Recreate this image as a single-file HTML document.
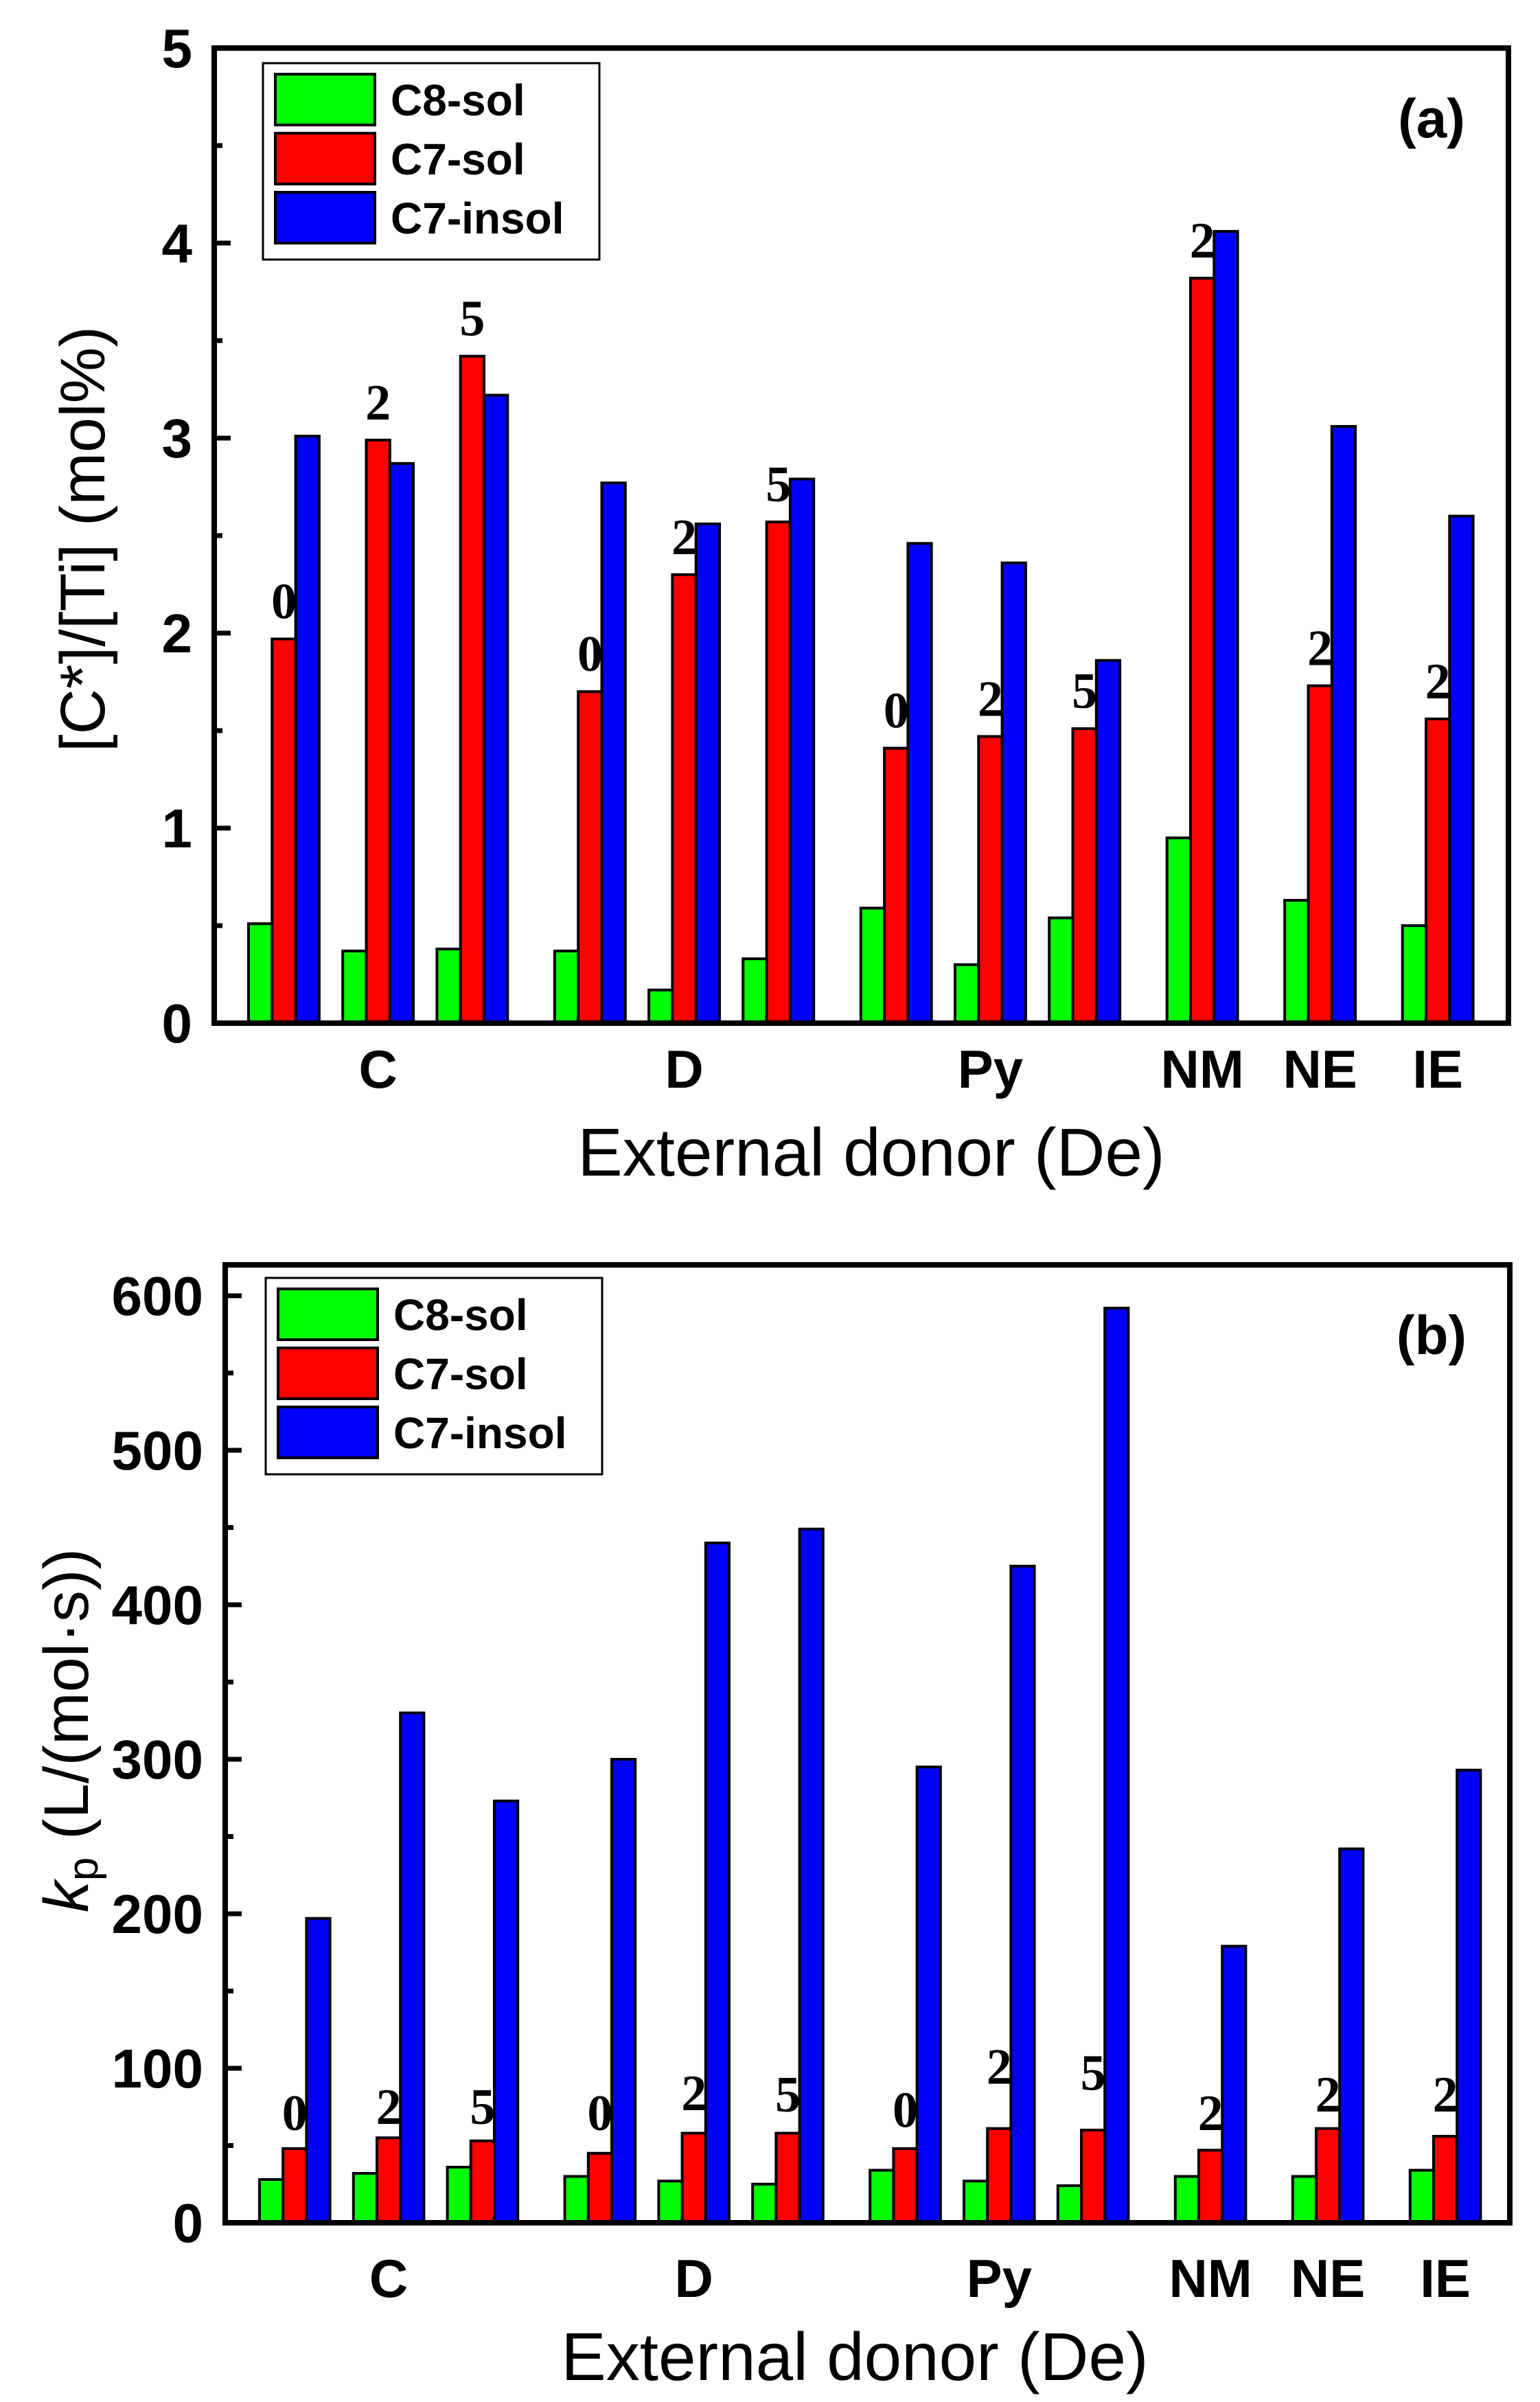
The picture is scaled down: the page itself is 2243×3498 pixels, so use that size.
<!DOCTYPE html>
<html><head><meta charset="utf-8"><style>
html,body{margin:0;padding:0;background:#fff}
svg{display:block}
text{font-family:"Liberation Sans",Arial,sans-serif}
</style></head><body>
<svg id="fig" width="2243" height="3498" viewBox="0 0 2243 3498" xmlns="http://www.w3.org/2000/svg"></svg>
<script>
const categories = ["C","C","C","D","D","D","Py","Py","Py","NM","NE","IE"];
const groupLabels = ["C","D","Py","NM","NE","IE"];
const annotations = ["0","2","5","0","2","5","0","2","5","2","2","2"];
const slots = [0,4,8,13,17,21,26,30,34,39,44,49];
const seriesNames = ["C8-sol","C7-sol","C7-insol"];
const colors = ["#00ff00","#ff0000","#0000ff"];
const aC8 = [0.51,0.37,0.38,0.37,0.17,0.33,0.59,0.30,0.54,0.95,0.63,0.50];
const aC7s = [1.97,2.99,3.42,1.70,2.30,2.57,1.41,1.47,1.51,3.82,1.73,1.56];
const aC7i = [3.01,2.87,3.22,2.77,2.56,2.79,2.46,2.36,1.86,4.06,3.06,2.60];
const aTicks = [0,1,2,3,4,5];
const bC8 = [28,32,36,30,27,25,34,27,24,30,30,34];
const bC7s = [48,55,53,45,58,58,48,61,60,47,61,56];
const bC7i = [197,330,273,300,440,449,295,425,592,179,242,293];
const bTicks = [0,100,200,300,400,500,600];
const bAnnotY = [60,64,64,60,73,72,62,90,86,60,72,72];

const NS="http://www.w3.org/2000/svg";
const svg=document.getElementById('fig');
function el(tag,attrs,parent,txt){const e=document.createElementNS(NS,tag);for(const k in attrs)e.setAttribute(k,attrs[k]);if(txt!==undefined)e.textContent=txt;(parent||svg).appendChild(e);return e;}

function panel(cfg){
  const g=el('g',{});
  
  
  const L=cfg.left,R=cfg.right,T=cfg.top,B=cfg.bottom;
  const y=v=>B-(v-cfg.min)/(cfg.max-cfg.min)*(B-T);
  const bw=cfg.bw;
  const x=(i,s)=>cfg.x0+(slots[i]+s)*bw;
  const data=[cfg.s0,cfg.s1,cfg.s2];
  for(let i=0;i<categories.length;i++){
    for(let s=0;s<3;s++){
      const v=data[s][i];
      const r=el('rect',{x:x(i,s),y:y(v),width:bw,height:B-y(v),fill:colors[s],stroke:'#000','stroke-width':4},g);
      
      
    }
    const ay=cfg.annotY?y(cfg.annotY[i]):y(cfg.s1[i])-30;
    const t=el('text',{x:x(i,1)+bw/2,y:ay,'text-anchor':'middle','font-size':74,'font-weight':'bold','style':'font-family:"Liberation Serif",serif'},g,annotations[i]);
    
    
  }
  const fr=el('rect',{x:L,y:T,width:R-L,height:B-T,fill:'none',stroke:'#000','stroke-width':8},g);
  
  
  const step=cfg.ticks[1]-cfg.ticks[0];
  for(let k=0;k<cfg.ticks.length;k++){
    const tv=cfg.ticks[k];
    el('line',{x1:L,x2:L+24,y1:y(tv),y2:y(tv),stroke:'#000','stroke-width':7},g);
    if(k<cfg.ticks.length-1){const mv=tv+step/2;el('line',{x1:L,x2:L+12,y1:y(mv),y2:y(mv),stroke:'#000','stroke-width':7},g);}
    const tl=el('text',{x:L-32,y:y(tv)+28,'text-anchor':'end','font-size':80,'font-weight':'bold'},g,String(tv));
    
    
  }
  const gi=[1,4,7,9,10,11];
  for(let k=0;k<groupLabels.length;k++){
    const i=gi[k];
    const cl=el('text',{x:x(i,1.5),y:cfg.catY,'text-anchor':'middle','font-size':78,'font-weight':'bold'},g,groupLabels[k]);
    
    
  }
  const xt=el('text',{x:cfg.xtX,y:cfg.xtY,'text-anchor':'middle','font-size':98},g,'External donor (De)');
  
  
  const yt=el('text',{x:0,y:0,'text-anchor':'middle','font-size':92,transform:`translate(${cfg.ytX},${cfg.ytY}) rotate(-90)`},g);
  
  
  if(cfg.kp){
    el('tspan',{'font-style':'italic'},yt,'k');
    el('tspan',{'font-size':62,dy:14},yt,'p');
    el('tspan',{dy:-14},yt,' (L/(mol·s))');
  } else yt.textContent='[C*]/[Ti] (mol%)';
  const pl=el('text',{x:cfg.plX,y:cfg.plY,'text-anchor':'middle','font-size':80,'font-weight':'bold'},g,cfg.panel);
  
  
  const lg=el('g',{},g);
  
  
  el('rect',{x:cfg.lgX,y:cfg.lgY,width:490,height:286,fill:'#fff',stroke:'#000','stroke-width':3},lg);
  for(let s=0;s<3;s++){
    const sy=cfg.lgY+16+s*86;
    const sw=el('rect',{x:cfg.lgX+18,y:sy,width:145,height:74,fill:colors[s],stroke:'#000','stroke-width':4},lg);
    
    
    const lt=el('text',{x:cfg.lgX+186,y:sy+60,'font-size':64,'font-weight':'bold'},lg,seriesNames[s]);
    
    
  }
}
panel({name:'panel-a-active-centers',panel:'(a)',left:312,right:2197,top:70,bottom:1490,min:0,max:5,ticks:aTicks,
  s0:aC8,s1:aC7s,s2:aC7i,x0:362,bw:34.3,catY:1584,xtX:1269,xtY:1712,ytX:152,ytY:785,plX:2085,plY:200,lgX:383,lgY:92});
panel({name:'panel-b-kp',panel:'(b)',kp:true,left:328,right:2199,top:1842,bottom:3237,min:0,max:620,ticks:bTicks,
  s0:bC8,s1:bC7s,s2:bC7i,x0:378,bw:34.2,catY:3345,xtX:1245,xtY:3466,ytX:128,ytY:2520,plX:2085,plY:1972,lgX:387,lgY:1861,annotY:bAnnotY});
</script>
</body></html>
